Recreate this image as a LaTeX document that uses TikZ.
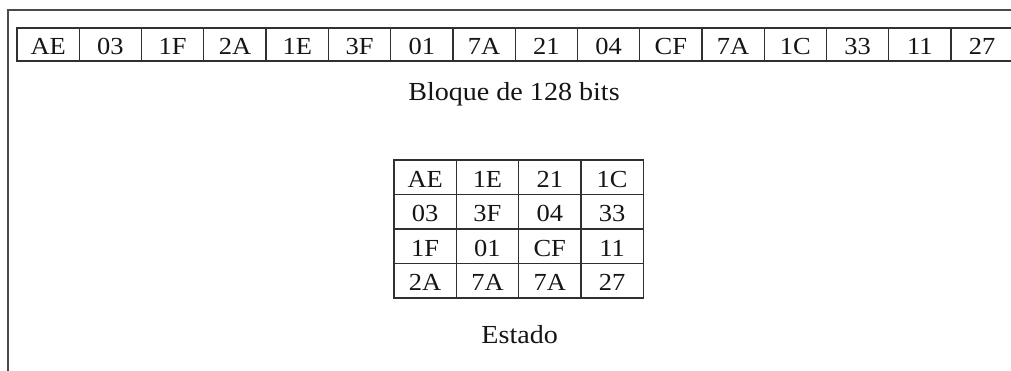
\documentclass[tikz,border=0pt]{standalone}
\usepackage{fontspec}
\setmainfont{Liberation Serif}[FakeStretch=1.08]
\definecolor{linegray}{HTML}{303030}
\definecolor{framegray}{HTML}{4A4A4A}
\definecolor{txt}{HTML}{151515}
\begin{document}
\begin{tikzpicture}[x=1pt,y=-1pt,
  cell/.style={draw=linegray, line width=1.2pt, minimum width=62.3pt,
    inner sep=0pt, text height=20pt, text depth=0pt, text=txt,
    font=\fontsize{24.5}{28}\selectfont, anchor=center},
  rowcell/.style={cell, minimum height=33pt},
  matcell/.style={cell, minimum height=34.5pt},
  caption/.style={anchor=base, inner sep=0pt, text=txt, font=\fontsize{26}{30}\selectfont}]
\useasboundingbox (0,0) rectangle (1011,371);
\fill[white] (0,0) rectangle (1011,371);
% outer frame
\draw[framegray, line width=1.3pt] (8,380) -- (8,10) -- (1020,10);
% 128-bit block
\foreach \v [count=\k from 0] in {AE,03,1F,2A,1E,3F,01,7A,21,04,CF,7A,1C,33,11,27} {
  \node[rowcell] (b\k) at ({48.15+\k*62.27}, 44.5) {\v};
  \pgfmathtruncatemacro{\col}{int(\k/4)}
  \pgfmathtruncatemacro{\row}{\k-4*\col}
  \node[matcell] (s\row\col) at ({425.15+\col*62.3}, {177.25+\row*34.5}) {\v};
}
\node[caption] (bloque) at (514,100.5) {Bloque de 128 bits};
\node[caption] (estado) at (519.7,343) {Estado};
\end{tikzpicture}
\end{document}
